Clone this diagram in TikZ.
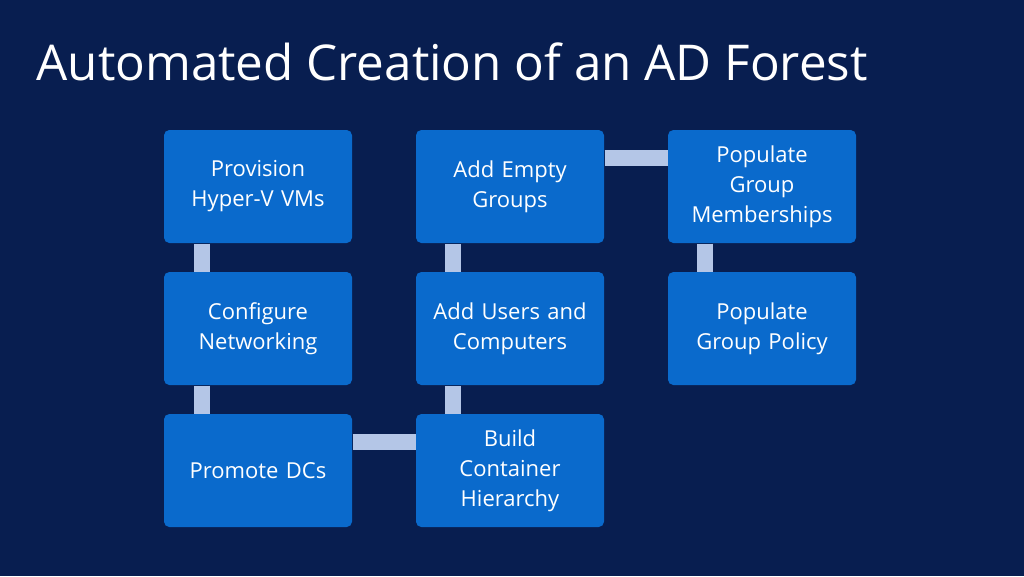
\documentclass[tikz,border=0pt]{standalone}
\usepackage{fontspec}
\setmainfont{Open Sans}
\usetikzlibrary{positioning,calc}
\definecolor{navy}{RGB}{8,30,80}
\definecolor{stepblue}{RGB}{10,106,204}
\definecolor{linkblue}{RGB}{180,198,231}
\tikzset{every picture/.style={line width=0.75pt}}

\begin{document}
\begin{tikzpicture}[x=0.75pt,y=0.75pt,yscale=-1,xscale=1,
  stepbox/.style={fill=stepblue,rounded corners=4pt,minimum width=141pt,minimum height=84.75pt,
    text width=135pt,align=center,text=white,font=\fontsize{16.5}{22.5}\selectfont,inner sep=0pt},
  link/.style={draw=linkblue,line width=12pt}]
\fill[navy] (0,0) rectangle (1024,576);

% Title
\draw (36,62) node [anchor=west][inner sep=0pt] [text=white,font=\fontsize{37}{40}\selectfont] {Automated Creation of an AD Forest};

% Steps
\node[stepbox] (prov) at (258,186.5) {Provision\\Hyper-V VMs};
\node[stepbox] (net) at (258,328.5) {Configure\\Networking};
\node[stepbox] (dcs) at (258,470.5) {Promote DCs};
\node[stepbox] (cont) at (510,470.5) {Build\\Container\\Hierarchy};
\node[stepbox] (users) at (510,328.5) {Add Users and\\Computers};
\node[stepbox] (groups) at (510,186.5) {Add Empty\\Groups};
\node[stepbox] (members) at (762,186.5) {Populate\\Group\\Memberships};
\node[stepbox] (policy) at (762,328.5) {Populate\\Group Policy};

% Connectors
\draw[link] ($(prov.south)+(-56,0)$) -- ($(net.north)+(-56,0)$);
\draw[link] ($(net.south)+(-56,0)$) -- ($(dcs.north)+(-56,0)$);
\draw[link] ($(dcs.east)+(0,-28.5)$) -- ($(cont.west)+(0,-28.5)$);
\draw[link] ($(cont.north)+(-57,0)$) -- ($(users.south)+(-57,0)$);
\draw[link] ($(users.north)+(-57,0)$) -- ($(groups.south)+(-57,0)$);
\draw[link] ($(groups.east)+(0,-28.5)$) -- ($(members.west)+(0,-28.5)$);
\draw[link] ($(members.south)+(-57,0)$) -- ($(policy.north)+(-57,0)$);

\end{tikzpicture}
\end{document}
